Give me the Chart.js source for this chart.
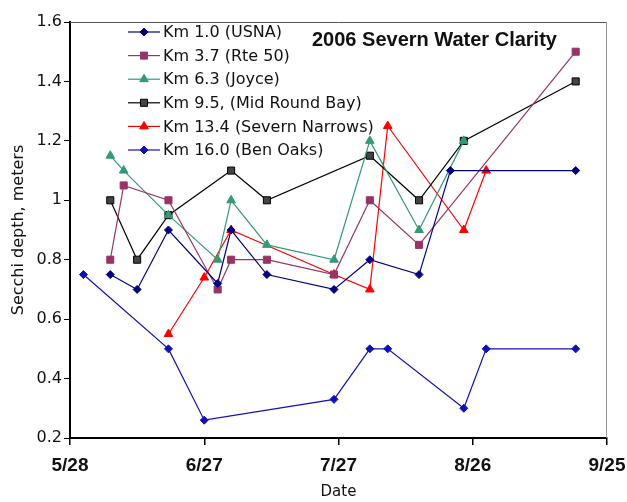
<!DOCTYPE html>
<html>
<head>
<meta charset="utf-8">
<title>2006 Severn Water Clarity</title>
<script src="https://cdn.jsdelivr.net/npm/chart.js@4.4.1/dist/chart.umd.min.js"></script>
<style>
    html, body { margin: 0; padding: 0; background: #fff; }
    #wrap { width: 627px; height: 502px; }
</style>
</head>
<body>
<div id="wrap"><canvas id="clarityChart" width="627" height="502"></canvas></div>
<script>
// ======= Data (x = days after 5/28, y = Secchi depth in meters) =======
const tickLabels = ['5/28', '6/27', '7/27', '8/26', '9/25'];

const usnaDays = [9, 15, 22, 33, 36, 44, 59, 67, 78, 85, 113];
const usnaDepth = [0.75, 0.7, 0.9, 0.72, 0.9, 0.75, 0.7, 0.8, 0.75, 1.1, 1.1];

const rte50Days = [9, 12, 22, 33, 36, 44, 59, 67, 78, 113];
const rte50Depth = [0.8, 1.05, 1.0, 0.7, 0.8, 0.8, 0.75, 1.0, 0.85, 1.5];

const joyceDays = [9, 12, 22, 33, 36, 44, 59, 67, 78, 88];
const joyceDepth = [1.15, 1.1, 0.95, 0.8, 1.0, 0.85, 0.8, 1.2, 0.9, 1.2];

const midRoundDays = [9, 15, 22, 36, 44, 67, 78, 88, 113];
const midRoundDepth = [1.0, 0.8, 0.95, 1.1, 1.0, 1.15, 1.0, 1.2, 1.4];

const narrowsDays = [22, 30, 36, 59, 67, 71, 88, 93];
const narrowsDepth = [0.55, 0.74, 0.9, 0.75, 0.7, 1.25, 0.9, 1.1];

const benOaksDays = [3, 22, 30, 59, 67, 71, 88, 93, 113];
const benOaksDepth = [0.75, 0.5, 0.26, 0.33, 0.5, 0.5, 0.3, 0.5, 0.5];

// ======= Pair up days + depths for a linear x axis =======
function toPoints(days, depths) {
    return days.map((d, i) => ({ x: d, y: depths[i] }));
}

function makeSeries(label, days, depths, color, fill, style, radius) {
    return {
        label: label,
        data: toPoints(days, depths),
        borderColor: color,
        backgroundColor: fill,
        pointBorderColor: color,
        pointBackgroundColor: fill,
        pointStyle: style,
        pointRadius: radius,
        pointBorderWidth: 1,
        borderWidth: 1.2,
        tension: 0,
        fill: false
    };
}

const datasets = [
    makeSeries('Km 1.0 (USNA)', usnaDays, usnaDepth, '#000080', '#000080', 'rectRot', 4),
    makeSeries('Km 3.7 (Rte 50)', rte50Days, rte50Depth, '#993366', '#993366', 'rect', 5),
    makeSeries('Km 6.3 (Joyce)', joyceDays, joyceDepth, '#339977', '#339977', 'triangle', 5),
    makeSeries('Km 9.5, (Mid Round Bay)', midRoundDays, midRoundDepth, '#000000', '#444444', 'rect', 5),
    makeSeries('Km 13.4 (Severn Narrows)', narrowsDays, narrowsDepth, '#ff0000', '#ff0000', 'triangle', 5),
    makeSeries('Km 16.0 (Ben Oaks)', benOaksDays, benOaksDepth, '#1010b8', '#1010b8', 'rectRot', 4)
];

// ======= Plot frame, legend box and title drawn inside the plot =======
const framePlugin = {
    id: 'frame',
    beforeDatasetsDraw(chart) {
        const { ctx, chartArea: a } = chart;
        ctx.save();
        ctx.lineWidth = 1;
        ctx.strokeStyle = '#555';
        ctx.beginPath();
        ctx.moveTo(a.left, a.top + 0.5);
        ctx.lineTo(a.right, a.top + 0.5);
        ctx.stroke();
        ctx.strokeStyle = '#999';
        ctx.beginPath();
        ctx.moveTo(a.right - 0.5, a.top);
        ctx.lineTo(a.right - 0.5, a.bottom);
        ctx.stroke();
        ctx.restore();
    },
    afterDraw(chart) {
        const { ctx } = chart;
        ctx.save();

        // Legend rows
        const rowY = 32, rowGap = 23.6;
        chart.data.datasets.forEach((ds, i) => {
            const y = rowY + i * rowGap;
            ctx.strokeStyle = ds.borderColor;
            ctx.lineWidth = 1.2;
            ctx.beginPath();
            ctx.moveTo(128, y);
            ctx.lineTo(160, y);
            ctx.stroke();
            ctx.fillStyle = ds.pointBackgroundColor;
            ctx.strokeStyle = ds.pointBorderColor;
            ctx.lineWidth = 1;
            Chart.helpers.drawPoint(ctx, {
                pointStyle: ds.pointStyle,
                radius: ds.pointRadius,
                rotation: 0,
                borderWidth: 1
            }, 144, y);
            ctx.fillStyle = '#111';
            ctx.font = '16px "DejaVu Sans"';
            ctx.textBaseline = 'middle';
            ctx.textAlign = 'left';
            ctx.fillText(ds.label, 163, y + 1);
        });

        // Chart title
        ctx.fillStyle = '#111';
        ctx.font = 'bold 20px "Liberation Sans"';
        ctx.textBaseline = 'middle';
        ctx.fillText('2006 Severn Water Clarity', 312, 40);
        ctx.restore();
    }
};

// ======= Build the chart =======
new Chart(document.getElementById('clarityChart'), {
    type: 'line',
    data: { datasets: datasets },
    options: {
        responsive: false,
        animation: false,
        layout: { padding: { left: 0, right: 20, top: 22, bottom: 0 } },
        plugins: {
            legend: { display: false },
            title: { display: false },
            tooltip: { enabled: false }
        },
        scales: {
            x: {
                type: 'linear',
                min: 0,
                max: 120,
                afterFit: scale => {
                    scale.height = 64;
                    scale.paddingLeft = 0;
                    scale.paddingRight = 0;
                },
                afterBuildTicks: scale => {
                    scale.ticks = tickLabels.map((_, i) => ({ value: i * 30 }));
                },
                ticks: {
                    callback: v => tickLabels[Math.round(v / 30)],
                    color: '#111',
                    font: { family: 'Liberation Sans', size: 19, weight: 'bold' },
                    padding: 9,
                    maxRotation: 0
                },
                grid: {
                    drawOnChartArea: false,
                    color: '#000',
                    lineWidth: 1.5,
                    tickLength: 7
                },
                border: { color: '#000', width: 2 },
                title: {
                    display: true,
                    text: 'Date',
                    color: '#111',
                    font: { family: 'DejaVu Sans', size: 15 },
                    padding: { top: 0, bottom: 1 }
                }
            },
            y: {
                min: 0.2,
                max: 1.6,
                afterFit: scale => { scale.width = 70; },
                ticks: {
                    stepSize: 0.2,
                    callback: v => String(parseFloat(v.toFixed(1))),
                    color: '#111',
                    font: { family: 'DejaVu Sans', size: 16 },
                    padding: 2
                },
                grid: {
                    drawOnChartArea: false,
                    color: '#000',
                    lineWidth: 1,
                    tickLength: 6
                },
                border: { color: '#000', width: 2 },
                title: {
                    display: true,
                    text: 'Secchi depth, meters',
                    color: '#111',
                    font: { family: 'DejaVu Sans', size: 16 },
                    padding: { top: 9, bottom: 0 }
                }
            }
        }
    },
    plugins: [framePlugin]
});
</script>
</body>
</html>
